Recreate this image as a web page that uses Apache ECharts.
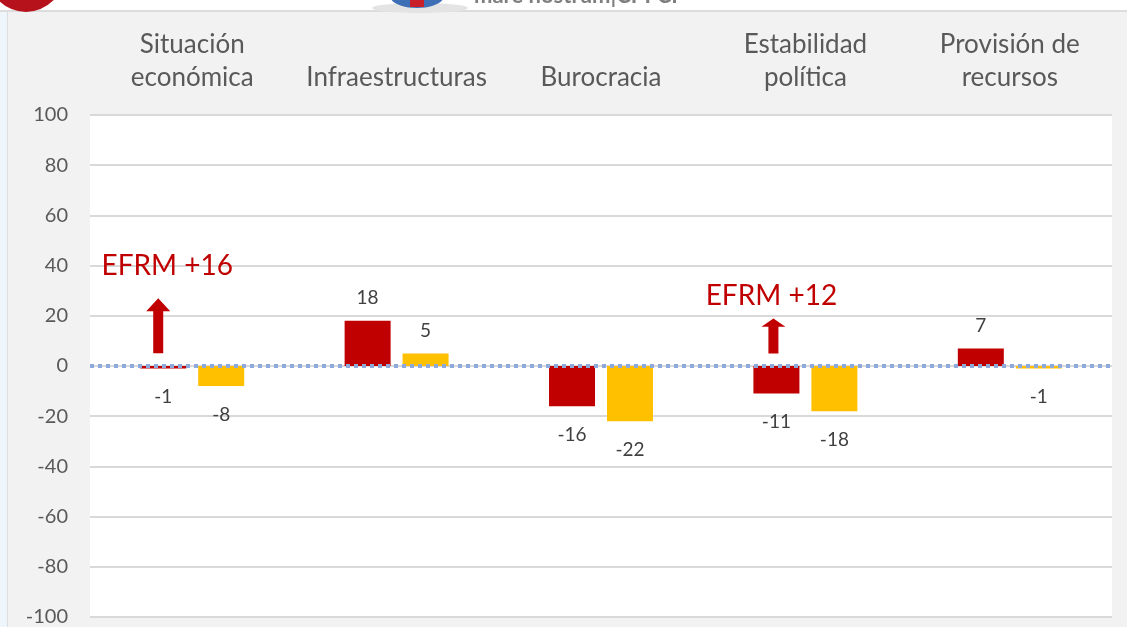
<!DOCTYPE html>
<html>
<head>
<meta charset="utf-8">
<title>Factores</title>
<script src="https://cdn.jsdelivr.net/npm/echarts@6/dist/echarts.min.js"></script>
<style>
	html, body { margin: 0; padding: 0; background: #f2f2f2; }
	#main { width: 1127px; height: 627px; }
</style>
</head>
<body>
<div id="main"></div>
<script>
	//categorías (eje superior)
	var categories = ['Situación\neconómica', 'Infraestructuras', 'Burocracia', 'Estabilidad\npolítica', 'Provisión de\nrecursos'];
	//serie roja y serie amarilla
	var serieRoja = [-1, 18, -16, -11, 7];
	var serieAmarilla = [-8, 5, -22, -18, -1];
	//eje y
	var yMin = -100, yMax = 100, yStep = 20;
	//anotaciones EFRM
	var notaCats = ['Situación\neconómica', 'Estabilidad\npolítica'];
	var notaTextos = ['EFRM +16', 'EFRM +12'];
	var notaFlechaCentro = [16, 12];
	var notaTextoValor = [40, 28];

	var font = 'Lato';

	//etiquetas arriba o abajo según el signo
	var conEtiquetas = function(arr) {
		return arr.map(function(v) {
			return { value: v, label: { position: v < 0 ? 'bottom' : 'top', distance: v < 0 ? 19 : 13 } };
		});
	};

	var flecha = 'path://M12,0 L24,13 L17,13 L17,55 L7,55 L7,13 L0,13 Z';
	var notas = [];
	for (var i = 0; i < notaCats.length; i++) {
		notas.push({
			coord: [notaCats[i], notaFlechaCentro[i]],
			symbol: flecha,
			symbolSize: i == 0 ? [24, 55] : [24, 35],
			symbolOffset: i == 0 ? [-5, 0] : [-3, 0],
			itemStyle: { color: '#c00000' },
			label: { show: false }
		});
		notas.push({
			coord: [notaCats[i], notaTextoValor[i]],
			symbol: 'rect',
			symbolSize: 1,
			itemStyle: { color: 'rgba(0,0,0,0)' },
			label: {
				show: true, position: 'inside', formatter: notaTextos[i],
				offset: i == 0 ? [4, 0] : [-5, 0],
				color: '#c00000', fontSize: 28, fontFamily: font
			}
		});
	}

	var myChart = echarts.init(document.getElementById('main'));
	var option = {
		backgroundColor: '#f2f2f2',
		animation: false,
		graphic: [
			//cabecera blanca cortada
			{ type: 'rect', shape: { x: 0, y: 0, width: 1127, height: 10 }, style: { fill: '#ffffff' }, z: 10 },
			{ type: 'rect', shape: { x: 0, y: 10, width: 1127, height: 2 }, style: { fill: '#dcdcdc' }, z: 10 },
			{ type: 'circle', shape: { cx: 26, cy: -26, r: 38 }, style: { fill: '#b5121b' }, z: 11 },
			{ type: 'ellipse', shape: { cx: 420, cy: 8, rx: 48, ry: 5 }, style: { fill: '#e4e4e4' }, z: 11 },
			{ type: 'ellipse', shape: { cx: 417, cy: -4, rx: 27, ry: 12 }, style: { fill: '#3d6fb6' }, z: 12 },
			{ type: 'rect', shape: { x: 410, y: 0, width: 14, height: 7 }, style: { fill: '#c8202a' }, z: 13 },
			{ type: 'text', x: 474, y: -15, style: { text: 'mare nostrum|CPFCP', fill: '#7f7f7f', font: 'bold 22px Lato' }, z: 12 },
			//franja izquierda
			{ type: 'rect', shape: { x: 0, y: 12, width: 7, height: 615 }, style: { fill: '#eef6fc' }, z: 10 },
			{ type: 'rect', shape: { x: 7, y: 12, width: 1, height: 615 }, style: { fill: '#dedede' }, z: 10 }
		],
		grid: {
			left: 90, right: 15, top: 115, bottom: 10,
			show: true, backgroundColor: '#ffffff', borderWidth: 0
		},
		xAxis: {
			type: 'category',
			position: 'top',
			data: categories,
			axisLine: { show: false },
			axisTick: { show: false },
			axisLabel: {
				color: '#595959', fontSize: 26, fontFamily: font,
				lineHeight: 33, margin: 21, interval: 0
			}
		},
		yAxis: {
			type: 'value',
			min: yMin, max: yMax, interval: yStep,
			axisLine: { show: false },
			axisTick: { show: false },
			axisLabel: { color: '#595959', fontSize: 20, fontFamily: font, margin: 22 },
			splitLine: { lineStyle: { color: '#d9d9d9', width: 2 } }
		},
		series: [
			{
				name: 'Serie roja',
				type: 'bar',
				barWidth: 46,
				barGap: '26%',
				itemStyle: { color: '#c00000' },
				label: { show: true, color: '#404040', fontSize: 19, fontFamily: font },
				data: conEtiquetas(serieRoja),
				markPoint: { silent: true, data: notas }
			},
			{
				name: 'Serie amarilla',
				type: 'bar',
				barWidth: 46,
				itemStyle: { color: '#ffc000' },
				label: { show: true, color: '#404040', fontSize: 19, fontFamily: font },
				data: conEtiquetas(serieAmarilla),
				markLine: {
					silent: true,
					symbol: 'none',
					label: { show: false },
					lineStyle: { color: '#8ea9db', width: 4, type: [4, 4], opacity: 1 },
					data: [{ yAxis: 0 }]
				}
			}
		]
	};
	myChart.setOption(option);
</script>
</body>
</html>
